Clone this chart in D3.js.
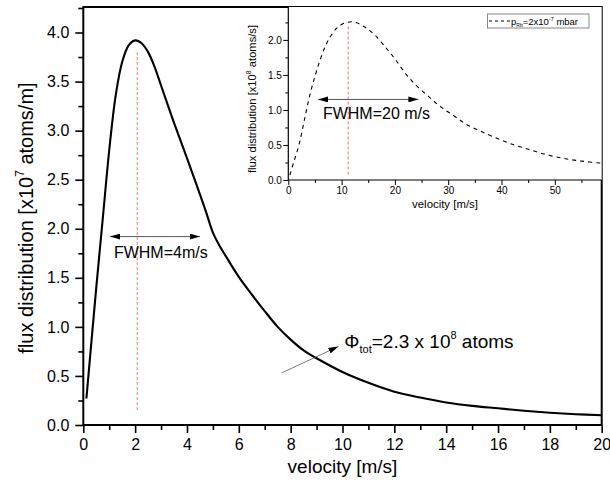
<!DOCTYPE html>
<html>
<head>
<meta charset="utf-8">
<script src="https://cdn.jsdelivr.net/npm/d3@7"></script>
<style>
  html, body { margin: 0; padding: 0; background: #fff; }
  svg { display: block; font-family: "Liberation Sans", Arial, sans-serif; }
</style>
</head>
<body>
<svg id="chart" width="610" height="482"></svg>
<script>
// Flux distribution vs. velocity (main plot, x10^7 atoms/m)
const mainVelocity = [0.12, 0.5, 0.75, 1.0, 1.25, 1.5, 1.75, 2.0, 2.25, 2.5, 2.75, 3.0, 3.5, 4.0, 4.5, 4.75, 5.0, 5.25, 5.5, 6.0, 6.5, 7.0, 7.5, 8.0, 8.5, 9.0, 10, 11, 12, 13, 14, 15, 16, 17, 18, 19, 20];
const mainFlux = [0.27, 1.40, 2.10, 2.80, 3.36, 3.70, 3.87, 3.92, 3.89, 3.80, 3.65, 3.46, 3.08, 2.72, 2.35, 2.16, 1.96, 1.83, 1.72, 1.51, 1.33, 1.16, 1.00, 0.87, 0.76, 0.68, 0.54, 0.43, 0.34, 0.28, 0.23, 0.195, 0.17, 0.145, 0.125, 0.11, 0.10];

// Flux distribution vs. velocity (inset, x10^8 atoms/s)
const insetVelocity = [0.3, 1, 2, 3, 4, 5, 6, 7, 8, 9, 10, 11, 12, 13, 14, 15, 16.5, 18.5, 20, 22, 24, 26.5, 28.5, 31, 33.5, 36, 39, 42, 45, 48, 51.5, 55, 58.8];
const insetFlux = [0.07, 0.25, 0.50, 0.85, 1.20, 1.48, 1.72, 1.92, 2.06, 2.16, 2.22, 2.25, 2.26, 2.24, 2.20, 2.15, 2.05, 1.87, 1.73, 1.52, 1.35, 1.18, 1.05, 0.92, 0.79, 0.70, 0.60, 0.51, 0.44, 0.37, 0.31, 0.27, 0.24];

// Tick values
const mainXTicks = [0, 2, 4, 6, 8, 10, 12, 14, 16, 18, 20];
const mainXMinor = [1, 3, 5, 7, 9, 11, 13, 15, 17, 19];
const mainYTicks = [0, 0.5, 1.0, 1.5, 2.0, 2.5, 3.0, 3.5, 4.0];
const mainYMinor = [0.25, 0.75, 1.25, 1.75, 2.25, 2.75, 3.25, 3.75, 4.25];
const insetXTicks = [0, 10, 20, 30, 40, 50];
const insetXMinor = [5, 15, 25, 35, 45, 55];
const insetYTicks = [0, 0.5, 1.0, 1.5, 2.0];
const insetYMinor = [0.25, 0.75, 1.25, 1.75, 2.25];

// Annotation values
const mainPeak = { v: 2.08, top: 3.80, bottom: 0.14 };
const mainFwhm = { from: 1.03, to: 4.5, level: 1.92, label: "FWHM=4m/s" };
const insetPeak = { v: 11.25, top: 2.19, bottom: 0.07 };
const insetFwhm = { from: 5.6, to: 24.4, level: 1.15, label: "FWHM=20 m/s" };
const totalArrow = { x1: 7.65, y1: 0.53, x2: 9.84, y2: 0.80 };

const svg = d3.select("#chart");

const defs = svg.append("defs");
function arrowMarker(id, orient) {
  defs.append("marker")
    .attr("id", id)
    .attr("viewBox", "0 0 10 6")
    .attr("refX", 10).attr("refY", 3)
    .attr("markerWidth", 10).attr("markerHeight", 6)
    .attr("markerUnits", "userSpaceOnUse")
    .attr("orient", orient)
    .append("path").attr("d", "M0,0 L10,3 L0,6 Z").attr("fill", "#000");
}
arrowMarker("head", "auto");
arrowMarker("headStart", "auto-start-reverse");

// ---------- main plot ----------
const x = d3.scaleLinear().domain([0, 20]).range([83.3, 601.7]);
const y = d3.scaleLinear().domain([0, 4.26]).range([425, 7]);

const gMain = svg.append("g");

function styleAxis(g, fontSize) {
  g.selectAll("path.domain").remove();
  g.selectAll("line").attr("stroke", "#000").attr("stroke-width", 1.6);
  g.selectAll("text").attr("font-size", fontSize).attr("fill", "#000")
    .attr("font-family", "'Liberation Sans', Arial, sans-serif");
}

gMain.append("g").attr("transform", "translate(0,425)")
  .call(d3.axisBottom(x).tickValues(mainXTicks).tickSize(8).tickPadding(6).tickFormat(d3.format("d")))
  .call(g => styleAxis(g, 16));
gMain.append("g").attr("transform", "translate(0,425)")
  .call(d3.axisBottom(x).tickValues(mainXMinor).tickSize(5).tickFormat(""))
  .call(g => styleAxis(g, 16));
gMain.append("g").attr("transform", "translate(83.3,0)")
  .call(d3.axisLeft(y).tickValues(mainYTicks).tickSize(8).tickPadding(6).tickFormat(d3.format(".1f")))
  .call(g => styleAxis(g, 16));
gMain.append("g").attr("transform", "translate(83.3,0)")
  .call(d3.axisLeft(y).tickValues(mainYMinor).tickSize(5).tickFormat(""))
  .call(g => styleAxis(g, 16));

// peak marker
gMain.append("line")
  .attr("x1", x(mainPeak.v)).attr("x2", x(mainPeak.v))
  .attr("y1", y(mainPeak.top)).attr("y2", y(mainPeak.bottom))
  .attr("stroke", "#f07878").attr("stroke-width", 1).attr("stroke-dasharray", "3,2");

// main curve
const mainLine = d3.line().x((d, i) => x(mainVelocity[i])).y(d => y(d)).curve(d3.curveCatmullRom.alpha(0.5));
gMain.append("path").datum(mainFlux)
  .attr("d", mainLine).attr("fill", "none").attr("stroke", "#000").attr("stroke-width", 2.1);

// FWHM arrow
gMain.append("line")
  .attr("x1", x(mainFwhm.from)).attr("x2", x(mainFwhm.to))
  .attr("y1", y(mainFwhm.level)).attr("y2", y(mainFwhm.level))
  .attr("stroke", "#555").attr("stroke-width", 1)
  .attr("marker-start", "url(#headStart)").attr("marker-end", "url(#head)");
gMain.append("text")
  .attr("x", x(1.18)).attr("y", y(1.92) + 21)
  .attr("font-size", 16).text(mainFwhm.label);

// total flux annotation
gMain.append("line")
  .attr("x1", x(totalArrow.x1)).attr("y1", y(totalArrow.y1))
  .attr("x2", x(totalArrow.x2)).attr("y2", y(totalArrow.y2))
  .attr("stroke", "#555").attr("stroke-width", 0.8)
  .attr("marker-end", "url(#head)");
const phi = gMain.append("text")
  .attr("x", x(totalArrow.x2) + 6).attr("y", y(totalArrow.y2) + 1)
  .attr("font-size", 19);
phi.append("tspan").text("Φ");
phi.append("tspan").attr("font-size", 11).attr("dy", 5).text("tot");
phi.append("tspan").attr("dy", -5).text("=2.3 x 10");
phi.append("tspan").attr("font-size", 11).attr("dy", -9).text("8");
phi.append("tspan").attr("dy", 9).text(" atoms");

// frame
gMain.append("rect")
  .attr("x", x(0)).attr("y", y(4.26))
  .attr("width", x(20) - x(0)).attr("height", y(0) - y(4.26))
  .attr("fill", "none").attr("stroke", "#000").attr("stroke-width", 2);

// axis titles
gMain.append("text")
  .attr("x", (x(0) + x(20)) / 2).attr("y", 473)
  .attr("text-anchor", "middle").attr("font-size", 19)
  .text("velocity [m/s]");
const yTitle = gMain.append("text")
  .attr("transform", "translate(33,218) rotate(-90)")
  .attr("text-anchor", "middle").attr("font-size", 20);
yTitle.append("tspan").text("flux distribution [x10");
yTitle.append("tspan").attr("font-size", 12).attr("dy", -9).text("7");
yTitle.append("tspan").attr("dy", 9).text(" atoms/m]");

// ---------- inset ----------
const xi = d3.scaleLinear().domain([0, 58.8]).range([288.3, 601.7]);
const yi = d3.scaleLinear().domain([0, 2.47]).range([180, 7]);
const gIn = svg.append("g");

gIn.append("rect")
  .attr("x", xi(0)).attr("y", yi(2.47))
  .attr("width", xi(58.8) - xi(0)).attr("height", yi(0) - yi(2.47))
  .attr("fill", "#fff");

function styleInset(g) {
  g.selectAll("path.domain").remove();
  g.selectAll("line").attr("stroke", "#000").attr("stroke-width", 1);
  g.selectAll("text").attr("font-size", 10).attr("fill", "#000")
    .attr("font-family", "'Liberation Sans', Arial, sans-serif");
}
gIn.append("g").attr("transform", "translate(0,180)")
  .call(d3.axisBottom(xi).tickValues(insetXTicks).tickSize(5).tickPadding(1.5).tickFormat(d3.format("d")))
  .call(styleInset);
gIn.append("g").attr("transform", "translate(0,180)")
  .call(d3.axisBottom(xi).tickValues(insetXMinor).tickSize(3).tickFormat(""))
  .call(styleInset);
gIn.append("g").attr("transform", "translate(288.3,0)")
  .call(d3.axisLeft(yi).tickValues(insetYTicks).tickSize(5).tickPadding(1.5).tickFormat(d3.format(".1f")))
  .call(styleInset);
gIn.append("g").attr("transform", "translate(288.3,0)")
  .call(d3.axisLeft(yi).tickValues(insetYMinor).tickSize(3).tickFormat(""))
  .call(styleInset);

gIn.append("line")
  .attr("x1", xi(0)).attr("x2", xi(58.8)).attr("y1", 180).attr("y2", 180)
  .attr("stroke", "#000").attr("stroke-width", 1.2);
gIn.append("line")
  .attr("x1", xi(0)).attr("x2", xi(0)).attr("y1", yi(0)).attr("y2", yi(2.47))
  .attr("stroke", "#000").attr("stroke-width", 1.2);

gIn.append("line")
  .attr("x1", xi(insetPeak.v)).attr("x2", xi(insetPeak.v))
  .attr("y1", yi(insetPeak.top)).attr("y2", yi(insetPeak.bottom))
  .attr("stroke", "#f4a0a0").attr("stroke-width", 1.5).attr("stroke-dasharray", "3,2");

const insetLine = d3.line().x((d, i) => xi(insetVelocity[i])).y(d => yi(d)).curve(d3.curveCatmullRom.alpha(0.5));
gIn.append("path").datum(insetFlux)
  .attr("d", insetLine).attr("fill", "none").attr("stroke", "#000")
  .attr("stroke-width", 1.1).attr("stroke-dasharray", "4,4");

gIn.append("line")
  .attr("x1", xi(insetFwhm.from)).attr("x2", xi(insetFwhm.to))
  .attr("y1", yi(insetFwhm.level)).attr("y2", yi(insetFwhm.level))
  .attr("stroke", "#555").attr("stroke-width", 1)
  .attr("marker-start", "url(#headStart)").attr("marker-end", "url(#head)");
gIn.append("text")
  .attr("x", xi(6.5)).attr("y", yi(insetFwhm.level) + 20)
  .attr("font-size", 16).text(insetFwhm.label);

// inset titles
gIn.append("text")
  .attr("x", (xi(0) + xi(58.8)) / 2).attr("y", 208)
  .attr("text-anchor", "middle").attr("font-size", 11.4)
  .text("velocity [m/s]");
const yiTitle = gIn.append("text")
  .attr("transform", "translate(256,99) rotate(-90)")
  .attr("text-anchor", "middle").attr("font-size", 11.2);
yiTitle.append("tspan").text("flux distribution [x10");
yiTitle.append("tspan").attr("font-size", 7).attr("dy", -5).text("8");
yiTitle.append("tspan").attr("dy", 5).text(" atoms/s]");

// legend
const lg = gIn.append("g");
lg.append("rect").attr("x", 487.5).attr("y", 14).attr("width", 101.5).attr("height", 14)
  .attr("fill", "#fff").attr("stroke", "#888").attr("stroke-width", 1);
lg.append("line").attr("x1", 489).attr("x2", 510).attr("y1", 21).attr("y2", 21)
  .attr("stroke", "#000").attr("stroke-width", 1).attr("stroke-dasharray", "3,3");
const lt = lg.append("text").attr("x", 511).attr("y", 24.5).attr("font-size", 9.5);
lt.append("tspan").text("p");
lt.append("tspan").attr("font-size", 5).attr("dy", 2).text("Rb");
lt.append("tspan").attr("dy", -2).text("=2x10");
lt.append("tspan").attr("font-size", 5.5).attr("dy", -4).text("-7");
lt.append("tspan").attr("dy", 4).text(" mbar");
</script>
</body>
</html>
